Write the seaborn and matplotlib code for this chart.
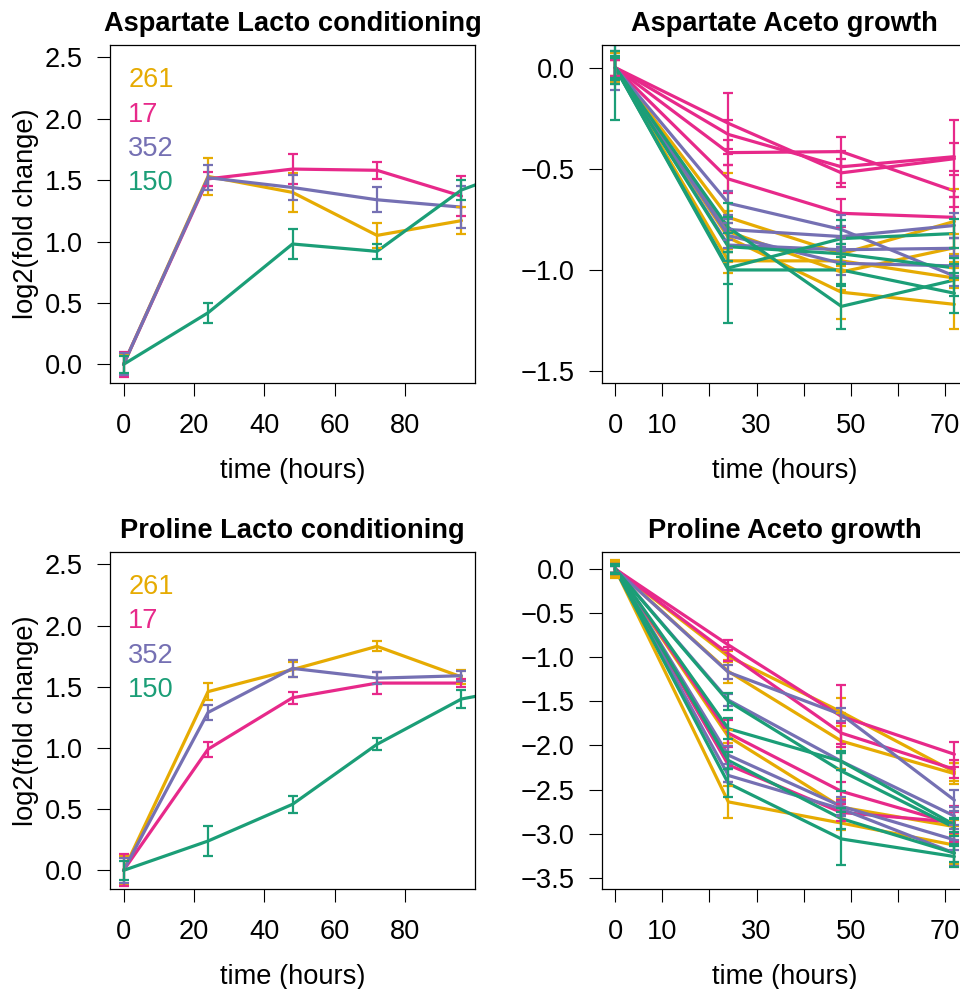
import numpy as np
import pandas as pd
import matplotlib
matplotlib.use('Agg')
import matplotlib.pyplot as plt
import seaborn as sns

# strains and colours (Dark2)
strains = ['261', '17', '352', '150']
colors = {'261': '#E6AB02', '17': '#E7298A', '352': '#7570B3', '150': '#1B9E77'}

# Lacto conditioning: one mean curve per strain (150 runs one point past the axis)
lacto_time = [0, 24, 48, 72, 96, 120]
asp_lacto = {
    '261': [0, 1.53, 1.40, 1.05, 1.17],
    '17': [0, 1.51, 1.59, 1.58, 1.37],
    '352': [0, 1.52, 1.44, 1.34, 1.28],
    '150': [0, 0.42, 0.98, 0.92, 1.42, 1.67],
}
asp_lacto_err = {
    '261': [0.08, 0.15, 0.16, 0.10, 0.11],
    '17': [0.10, 0.06, 0.12, 0.07, 0.16],
    '352': [0.09, 0.10, 0.10, 0.10, 0.17],
    '150': [0.07, 0.08, 0.12, 0.06, 0.08, 0.08],
}
pro_lacto = {
    '261': [0, 1.46, 1.64, 1.83, 1.58],
    '17': [0, 0.99, 1.41, 1.53, 1.53],
    '352': [0, 1.29, 1.65, 1.57, 1.59],
    '150': [0, 0.24, 0.54, 1.03, 1.40, 1.53],
}
pro_lacto_err = {
    '261': [0.12, 0.07, 0.06, 0.04, 0.06],
    '17': [0.13, 0.06, 0.05, 0.09, 0.03],
    '352': [0.10, 0.06, 0.07, 0.05, 0.04],
    '150': [0.08, 0.12, 0.07, 0.05, 0.07, 0.07],
}

# Aceto growth: four replicate curves per strain
aceto_time = [0, 24, 48, 72]
asp_aceto = {
    '261': [[0, -0.74, -0.92, -0.76], [0, -0.81, -1.01, -0.89],
            [0, -0.955, -0.955, -1.04], [0, -0.84, -1.11, -1.17]],
    '17': [[0, -0.275, -0.52, -0.45], [0, -0.33, -0.49, -0.44],
           [0, -0.42, -0.415, -0.61], [0, -0.55, -0.72, -0.74]],
    '352': [[0, -0.67, -0.80, -1.03], [0, -0.80, -0.835, -0.78],
            [0, -0.877, -0.90, -0.893], [0, -0.83, -0.967, -0.98]],
    '150': [[0, -0.79, -1.18, -1.05], [0, -0.99, -0.845, -0.82],
            [0, -1.0, -1.0, -1.115], [0, -0.885, -0.92, -0.99]],
}
asp_aceto_err = {
    '261': [[0.07, 0.22, 0.08, 0.16], [0.05, 0.10, 0.09, 0.07],
            [0.04, 0.06, 0.05, 0.05], [0.05, 0.07, 0.13, 0.12]],
    '17': [[0.05, 0.15, 0.07, 0.19], [0.05, 0.07, 0.08, 0.07],
           [0.04, 0.06, 0.07, 0.08], [0.04, 0.07, 0.07, 0.10]],
    '352': [[0.11, 0.06, 0.07, 0.05], [0.08, 0.05, 0.05, 0.06],
            [0.06, 0.08, 0.06, 0.05], [0.05, 0.06, 0.06, 0.05]],
    '150': [[0.26, 0.12, 0.11, 0.08], [0.06, 0.08, 0.09, 0.07],
            [0.08, 0.26, 0.08, 0.10], [0.05, 0.07, 0.05, 0.05]],
}
pro_aceto = {
    '261': [[0, -0.99, -1.62, -2.30], [0, -1.16, -1.95, -2.32],
            [0, -1.90, -2.70, -2.92], [0, -2.64, -2.88, -3.13]],
    '17': [[0, -0.86, -1.67, -2.10], [0, -0.96, -1.86, -2.27],
           [0, -1.86, -2.52, -2.89], [0, -2.22, -2.76, -2.87]],
    '352': [[0, -1.17, -1.65, -2.62], [0, -1.485, -2.18, -2.80],
            [0, -2.11, -2.69, -3.07], [0, -2.34, -2.72, -3.22]],
    '150': [[0, -1.50, -2.29, -2.93], [0, -1.81, -2.18, -2.90],
            [0, -2.17, -2.83, -3.22], [0, -2.43, -3.06, -3.26]],
}
pro_aceto_err = {
    '261': [[0.08, 0.06, 0.16, 0.10], [0.10, 0.13, 0.32, 0.12],
            [0.05, 0.07, 0.10, 0.08], [0.05, 0.18, 0.08, 0.22]],
    '17': [[0.06, 0.06, 0.35, 0.14], [0.05, 0.08, 0.12, 0.10],
           [0.04, 0.15, 0.10, 0.20], [0.05, 0.20, 0.10, 0.12]],
    '352': [[0.05, 0.08, 0.07, 0.12], [0.06, 0.07, 0.10, 0.10],
            [0.04, 0.10, 0.10, 0.12], [0.05, 0.08, 0.08, 0.15]],
    '150': [[0.05, 0.10, 0.23, 0.10], [0.06, 0.12, 0.10, 0.08],
            [0.05, 0.10, 0.12, 0.10], [0.04, 0.16, 0.30, 0.12]],
}

FS = 19.6

sns.set_style('ticks')
plt.rcParams['font.family'] = ['Liberation Sans', 'DejaVu Sans']
plt.rcParams['axes.unicode_minus'] = True
for key in ('text.color', 'axes.labelcolor', 'xtick.color', 'ytick.color', 'axes.edgecolor'):
    plt.rcParams[key] = 'black'


def to_long(time, vals, errs):
    rows = []
    for s in strains:
        reps = vals[s] if isinstance(vals[s][0], list) else [vals[s]]
        rerr = errs[s] if isinstance(errs[s][0], list) else [errs[s]]
        for r, (v, e) in enumerate(zip(reps, rerr)):
            for t, y, sd in zip(time, v, e):
                rows.append({'time': t, 'value': y, 'err': sd, 'strain': s, 'rep': f'{s}_{r}'})
    return pd.DataFrame(rows)


def draw_panel(ax, df, title):
    sns.lineplot(data=df, x='time', y='value', hue='strain', units='rep', estimator=None,
                 palette=colors, hue_order=strains, legend=False, sort=False, lw=2.3, ax=ax)
    for (s, r), g in df.groupby(['strain', 'rep'], sort=False):
        ax.errorbar(g['time'], g['value'], yerr=g['err'], fmt='none', ecolor=colors[s],
                    elinewidth=1.6, capsize=3.5, capthick=1.6)
    ax.set_title(title, fontsize=FS, fontweight='bold', pad=10, color='black')
    ax.set_xlabel('time (hours)', fontsize=FS, labelpad=14)
    ax.tick_params(axis='both', labelsize=FS, length=9.4, width=0.8, color='black',
                   labelcolor='black')
    ax.tick_params(axis='x', pad=12)
    ax.tick_params(axis='y', pad=10)
    for sp in ax.spines.values():
        sp.set_visible(True)
        sp.set_linewidth(0.9)
        sp.set_color('black')


fig = plt.figure(figsize=(9.6, 9.89), dpi=100)
ax_tl = fig.add_axes([0.1146, 0.6127, 0.3802, 0.3418])
ax_tr = fig.add_axes([0.6268, 0.6127, 0.3815, 0.3418])
ax_bl = fig.add_axes([0.1146, 0.1011, 0.3802, 0.3407])
ax_br = fig.add_axes([0.6268, 0.1011, 0.3815, 0.3407])

panels = [
    (ax_tl, lacto_time, asp_lacto, asp_lacto_err, 'Aspartate Lacto conditioning'),
    (ax_tr, aceto_time, asp_aceto, asp_aceto_err, 'Aspartate Aceto growth'),
    (ax_bl, lacto_time, pro_lacto, pro_lacto_err, 'Proline Lacto conditioning'),
    (ax_br, aceto_time, pro_aceto, pro_aceto_err, 'Proline Aceto growth'),
]
for ax, tm, vals, errs, title in panels:
    draw_panel(ax, to_long(tm, vals, errs), title)

for ax in (ax_tl, ax_bl):
    ax.set_xlim(-3.84, 99.84)
    ax.set_ylim(-0.152, 2.60)
    ax.set_xticks([0, 20, 40, 60, 80])
    ax.set_yticks(np.arange(0, 2.51, 0.5))
    ax.set_yticklabels([f'{v:.1f}' for v in np.arange(0, 2.51, 0.5)])
    ax.set_ylabel('log2(fold change)', fontsize=FS, labelpad=4)
    for i, s in enumerate(strains):
        ax.text(0.05, 0.895 - 0.101 * i, s, transform=ax.transAxes, color=colors[s],
                fontsize=FS, ha='left', va='center')

for ax in (ax_tr, ax_br):
    ax.set_xlim(-2.88, 74.88)
    ax.set_xticks(range(0, 80, 10))
    ax.set_xticklabels(['0', '10', '', '30', '', '50', '', '70'])
    ax.set_ylabel('')

ax_tr.set_ylim(-1.559, 0.112)
ax_tr.set_yticks([0, -0.5, -1.0, -1.5])
ax_tr.set_yticklabels(['0.0', '\u22120.5', '\u22121.0', '\u22121.5'])
ax_br.set_ylim(-3.628, 0.193)
br_ticks = np.arange(0, -3.51, -0.5)
ax_br.set_yticks(br_ticks)
ax_br.set_yticklabels(['0.0'] + [f'\u2212{abs(v):.1f}' for v in br_ticks[1:]])

fig.savefig('out.png', dpi=100)
